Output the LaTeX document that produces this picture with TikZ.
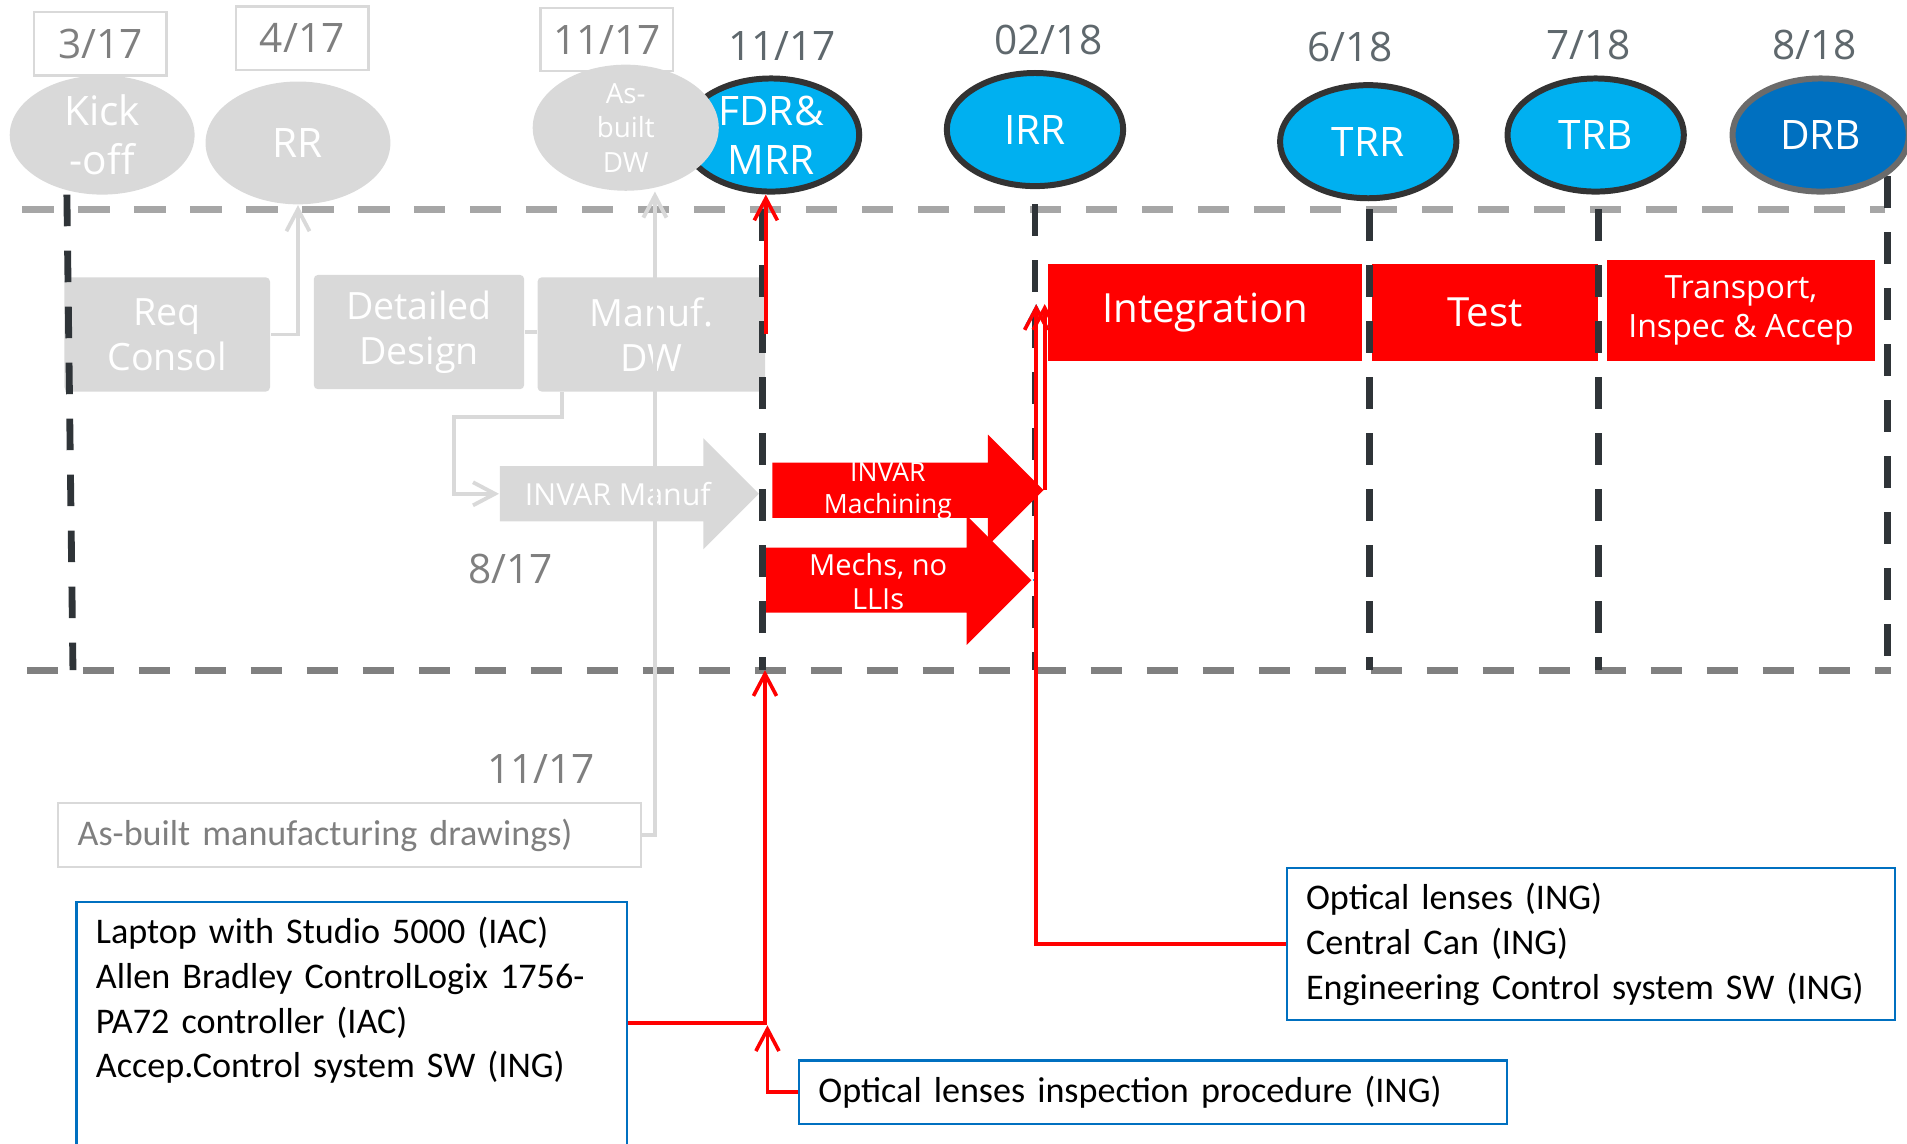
\documentclass[tikz,border=0pt]{standalone}
\usepackage{fontspec}
\setmainfont{Carlito}
\newfontfamily\segoe{Open Sans}
\usetikzlibrary{positioning,shapes.geometric,shapes.arrows,arrows.meta}
\definecolor{palegray}{HTML}{D9D9D9}
\definecolor{skyblue}{HTML}{00B0F0}
\definecolor{deepblue}{HTML}{0070C0}
\definecolor{rimgray}{HTML}{333333}
\definecolor{drbrim}{HTML}{6B6B6B}
\definecolor{dategray}{HTML}{7F7F7F}
\definecolor{slategray}{HTML}{5F686D}
\definecolor{trackgray}{HTML}{2F3438}
\definecolor{toplinegray}{HTML}{A6A6A6}
\definecolor{botlinegray}{HTML}{808080}
\definecolor{hotred}{HTML}{FF0000}
\newcommand{\segfont}[2]{\segoe\fontsize{#1}{#2}\selectfont}

\begin{document}
\begin{tikzpicture}[
  dateold/.style={text=dategray,font=\segfont{9.5}{11}},
  datenew/.style={text=slategray,font=\segfont{9.5}{11}},
  datebox/.style={dateold,draw=palegray,line width=0.6pt,minimum width=1.09cm,minimum height=0.52cm,inner sep=0pt},
  milestone/.style={ellipse,inner sep=0pt,text=white,align=center,font=\segfont{9.5}{11.4}},
  pastms/.style={milestone,fill=palegray},
  nextms/.style={milestone,fill=skyblue,draw=rimgray,line width=1.4pt,minimum width=1.45cm,minimum height=0.93cm},
  taskbox/.style={rectangle,rounded corners=1pt,fill=palegray,text=white,align=center,inner sep=0pt,minimum height=0.94cm,font=\segfont{8.8}{10.5}},
  phasebox/.style={rectangle,fill=hotred,text=white,align=center,inner sep=0pt,minimum height=0.80cm,font=\segfont{9.4}{11}},
  blockarrow/.style={single arrow,single arrow head extend=0.23cm,inner ysep=0.22cm,inner xsep=0pt,minimum width=0pt,anchor=tip},
  arrowtext/.style={text=white,align=center,inner sep=0pt},
  itembox/.style={draw=deepblue,line width=0.5pt,align=left,inner xsep=0.16cm,inner ysep=0.12cm,font=\fontsize{8.45}{10.5}\selectfont},
  topline/.style={draw=toplinegray,line width=1.7pt,dash pattern=on 7.4pt off 5.7pt},
  botline/.style={topline,draw=botlinegray},
  mstrack/.style={draw=trackgray,line width=1.6pt,dash pattern=on 7.4pt off 5.7pt},
  feed/.style={draw=palegray,line width=0.9pt},
  needs/.style={draw=hotred,line width=0.85pt},
  barb/.style={-{Straight Barb[length=1.8mm,width=1.9mm]}}
]
  \useasboundingbox (0,0) rectangle (15.68,-9.40);

  % time band
  \draw[topline] (0.18,-1.72) -- (15.50,-1.72);
  \draw[botline] (0.22,-5.51) -- (15.55,-5.51);

  % past work
  \node[taskbox,minimum width=1.69cm] (req) at (1.375,-2.75) {Req\\Consol};
  \node[taskbox,minimum width=1.73cm] (design) at (3.445,-2.73) {Detailed\\Design};
  \node[taskbox,minimum width=1.87cm] (manuf) at (5.355,-2.75) {Manuf.\\DW};

  % phases
  \node[phasebox,minimum width=2.58cm] (integ) at (9.91,-2.57) {Integration};
  \node[phasebox,minimum width=1.86cm] (test) at (12.21,-2.57) {Test};
  \node[phasebox,minimum width=2.21cm,minimum height=0.83cm,font=\segfont{7.5}{9.1}] (transp) at (14.315,-2.555) {Transport,\\Inspec \& Accep};

  % milestone tracks
  \draw[mstrack] (0.55,-1.60) -- (0.60,-5.51);
  \draw[mstrack] (6.27,-1.72) -- (6.27,-5.51);
  \draw[mstrack] (8.51,-1.68) -- (8.51,-5.51);
  \draw[mstrack] (11.26,-1.72) -- (11.26,-5.51);
  \draw[mstrack] (13.14,-1.72) -- (13.14,-5.51);
  \draw[mstrack] (15.52,-1.45) -- (15.52,-5.51);

  % work packages
  \node[blockarrow,fill=palegray,minimum height=2.13cm] (invarmanuf) at (6.25,-4.06) {};
  \node[arrowtext,font=\segfont{7.1}{9}] (invarmanuflbl) at (5.08,-4.06) {INVAR Manuf};
  \node[blockarrow,fill=hotred,minimum height=2.23cm] (invarmach) at (8.59,-4.03) {};
  \node[arrowtext,font=\segfont{6.2}{7.4}] (invarmachlbl) at (7.30,-4.04) {INVAR\\Machining};
  \node[blockarrow,fill=hotred,minimum height=2.18cm,inner ysep=0.26cm,single arrow head extend=0.265cm] (mechs) at (8.49,-4.77) {};
  \node[arrowtext,font=\segfont{6.8}{8}] (mechslbl) at (7.22,-4.78) {Mechs, no\\LLIs};

  % reviews
  \node[datebox] (d317) at (0.825,-0.36) {3/17};
  \node[datebox] (d417) at (2.485,-0.315) {4/17};
  \node[datebox] (d1117a) at (4.99,-0.325) {11/17};

  \node[nextms] (fdr) at (6.34,-1.11) {FDR\&\\MRR};
  \node[pastms,minimum width=1.52cm,minimum height=0.98cm] (kick) at (0.84,-1.11) {Kick\\-off};
  \node[pastms,minimum width=1.52cm,minimum height=1.01cm] (rr) at (2.45,-1.175) {RR};
  \node[pastms,minimum width=1.53cm,minimum height=1.00cm,font=\segfont{6.5}{8.1}] (asbuilt) at (5.145,-1.05) {As-\\built\\DW};
  \node[nextms] (irr) at (8.51,-1.065) {IRR};
  \node[nextms] (trr) at (11.25,-1.165) {TRR};
  \node[nextms] (trb) at (13.12,-1.11) {TRB};
  \node[nextms,fill=deepblue,draw=drbrim] (drb) at (14.97,-1.11) {DRB};

  \node[datenew,xshift=0.09cm] (d1117b) [above = 0cm of fdr] {11/17};
  \node[datenew,xshift=0.11cm] (d0218) [above = 0cm of irr] {02/18};
  \node[datenew,xshift=-0.15cm] (d618) [above = 0.045cm of trr] {6/18};
  \node[datenew,xshift=-0.06cm] (d718) [above = 0cm of trb] {7/18};
  \node[datenew,xshift=-0.05cm] (d818) [above = 0cm of drb] {8/18};

  \node[dateold] (d817) at (4.20,-4.68) {8/17};
  \node[dateold] (d1117c) at (4.45,-6.32) {11/17};

  % deliverables
  \node[itembox,draw=palegray,text=dategray,anchor=west,text width=4.47cm,minimum height=0.53cm,inner ysep=0pt] (asbuiltdoc) at (0.47,-6.865) {As-built manufacturing drawings)};
  \node[itembox,anchor=north west,text width=4.21cm] (laptop) at (0.62,-7.41) {Laptop with Studio 5000 (IAC)\\Allen Bradley ControlLogix 1756-\\PA72 controller (IAC)\\Accep.Control system SW (ING)\\[14mm]\mbox{}};
  \node[itembox,anchor=west,text width=5.50cm,minimum height=0.52cm,inner ysep=0pt] (inspect) at (6.56,-8.98) {Optical lenses inspection procedure (ING)};
  \node[itembox,anchor=north west,text width=4.68cm] (optics) at (10.57,-7.13) {Optical lenses (ING)\\Central Can (ING)\\Engineering Control system SW (ING)};

  \coordinate (fdrin) at (6.29,-5.51);
  \coordinate (lapjoin) at (6.31,-8.43);
  \coordinate (irrin) at (8.52,-2.50);

  % links
  \draw[feed,barb] (req.east) -| (rr.south);
  \draw[feed] (design.east) -- (design.east -| manuf.west);
  \draw[feed,barb] ([xshift=2.1mm]manuf.south west) -- ++(0,-0.2) -| ([xshift=-3.7mm]invarmanuf.tail) -- (invarmanuf.tail);
  \draw[feed,barb] (asbuiltdoc.east) -| ([xshift=2.4mm]asbuilt.south);

  \draw[draw=skyblue,line width=0.6pt,barb] (mechs.tip) -| (irrin);
  \draw[needs,barb] (invarmach.tip) -- (invarmach.tip |- irrin);
  \draw[needs,barb] (manuf.east) -- (manuf.east |- fdr.south);
  \draw[needs,barb] ([yshift=-1.0cm]laptop.north east) -| (fdrin);
  \draw[needs,barb] (inspect.west) -| (lapjoin);
  \draw[needs,barb] (optics.west) -| (irrin);
\end{tikzpicture}
\end{document}
